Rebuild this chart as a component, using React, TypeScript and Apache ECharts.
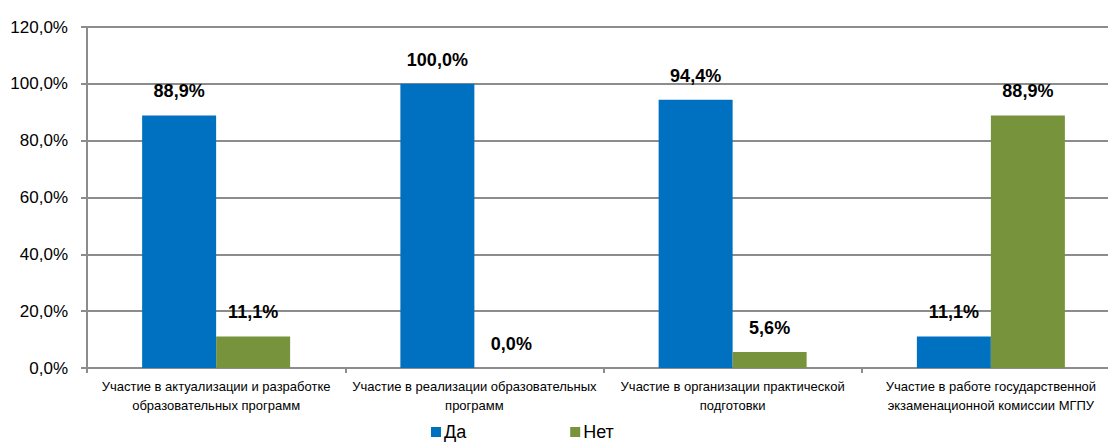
import React, { useEffect, useRef } from "react";
import * as echarts from "echarts";

const categories = [
  "Участие в актуализации и разработке\nобразовательных программ",
  "Участие в реализации образовательных\nпрограмм",
  "Участие в организации практической\nподготовки",
  "Участие в работе государственной\nэкзаменационной комиссии МГПУ",
];
const seriesNames = ["Да", "Нет"];
const yesValues = [88.9, 100.0, 94.4, 11.1];
const noValues = [11.1, 0.0, 5.6, 88.9];

const FONT = "'Liberation Sans', Arial, sans-serif";
const fmt = (v: number) => v.toFixed(1).replace(".", ",") + "%";

export default function App() {
  const ref = useRef<HTMLDivElement>(null);
  useEffect(() => {
    if (!ref.current) return;
    const chart = echarts.init(ref.current, undefined, { renderer: "svg" });
    const label = {
      show: true,
      position: "top" as const,
      distance: 15,
      fontFamily: FONT,
      fontSize: 18,
      fontWeight: "bold" as const,
      color: "#000",
      formatter: (p: any) => fmt(p.value),
    };
    chart.setOption({
      animation: false,
      backgroundColor: "#fff",
      grid: { left: 87, right: 0, top: 27, bottom: 75 },
      legend: {
        data: seriesNames,
        left: 426,
        bottom: -3,
        itemWidth: 10,
        itemHeight: 10,
        itemGap: 104,
        icon: "rect",
        textStyle: { fontFamily: FONT, fontSize: 18, color: "#000", padding: [0, 0, 0, -2] },
      },
      xAxis: {
        type: "category",
        data: categories,
        axisLine: { lineStyle: { color: "#8c8c8c", width: 2 } },
        axisTick: { show: true, length: 5, lineStyle: { color: "#8c8c8c", width: 2 } },
        axisLabel: {
          fontFamily: FONT,
          fontSize: 13,
          color: "#000",
          lineHeight: 19,
          margin: 9,
          interval: 0,
        },
      },
      yAxis: {
        type: "value",
        min: 0,
        max: 120,
        interval: 20,
        axisLine: { show: true, lineStyle: { color: "#8c8c8c", width: 2 } },
        axisTick: { show: true, length: 6, lineStyle: { color: "#8c8c8c", width: 2 } },
        splitLine: { lineStyle: { color: "#8c8c8c", width: 2 } },
        axisLabel: {
          fontFamily: FONT,
          fontSize: 17,
          color: "#000",
          margin: 19,
          formatter: (v: number) => fmt(v),
        },
      },
      series: [
        {
          name: seriesNames[0],
          type: "bar",
          data: yesValues,
          barWidth: 74,
          barGap: "0%",
          itemStyle: { color: "#0070C0" },
          label,
        },
        {
          name: seriesNames[1],
          type: "bar",
          data: noValues,
          barWidth: 74,
          barGap: "0%",
          itemStyle: { color: "#77933C" },
          label,
        },
      ],
    });
    return () => chart.dispose();
  }, []);
  return (
    <div
      ref={ref}
      style={{ position: "fixed", left: 0, top: 0, width: 1120, height: 443 }}
    />
  );
}
